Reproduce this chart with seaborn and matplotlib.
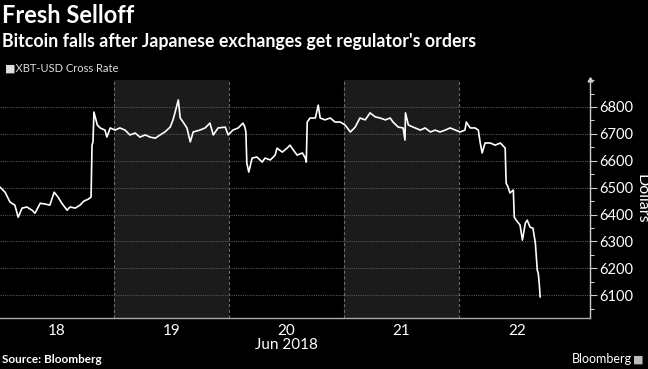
import pandas as pd
import matplotlib
matplotlib.use("Agg")
import matplotlib.pyplot as plt
from matplotlib.ticker import MultipleLocator
import seaborn as sns

# hours since 2018-06-18 00:00 and XBT-USD rate
hours_18 = [0.2, 1.25, 2.3, 3.3, 4.0, 4.8, 5.8, 6.9, 7.5, 8.6, 9.6, 10.6, 11.5, 12.3, 13.1,
            14.2, 14.8, 15.9, 16.9, 17.7, 18.6, 19.2, 19.4, 19.6, 19.8, 20.5, 21.1, 22.1, 22.5, 23.2]
rate_18 = [6502, 6483, 6446, 6435, 6390, 6424, 6428, 6416, 6405, 6442, 6439, 6435, 6483, 6465, 6442,
           6416, 6428, 6424, 6435, 6450, 6457, 6465, 6658, 6670, 6781, 6733, 6722, 6714, 6688, 6722]

hours_19 = [24.2, 25.2, 26.3, 27.3, 28.4, 29.4, 30.5, 31.5, 32.6, 33.6, 34.6, 35.7, 36.3, 36.7, 37.4,
            37.8, 38.4, 39.2, 39.9, 40.5, 41.9, 43.0, 44.0, 44.7, 45.7, 47.2]
rate_19 = [6714, 6722, 6714, 6696, 6703, 6688, 6696, 6688, 6684, 6696, 6707, 6725, 6752, 6778, 6826,
           6759, 6744, 6722, 6670, 6707, 6714, 6722, 6740, 6696, 6722, 6725]

hours_20 = [47.8, 48.8, 49.9, 50.9, 51.3, 51.5, 51.7, 52.1, 52.8, 53.8, 54.9, 55.5, 56.6, 57.6, 58.0,
            59.1, 60.1, 60.7, 61.4, 62.2, 63.3, 63.9, 64.1, 64.3, 64.9, 66.0, 66.6, 67.0, 68.0, 69.1,
            70.1, 71.2]
rate_20 = [6696, 6714, 6722, 6740, 6725, 6707, 6591, 6558, 6610, 6614, 6595, 6610, 6603, 6621, 6647,
           6632, 6647, 6658, 6640, 6621, 6629, 6610, 6595, 6744, 6759, 6759, 6807, 6759, 6752, 6759,
           6744, 6744]

hours_21 = [72.2, 73.3, 74.3, 75.3, 76.4, 77.4, 78.5, 79.5, 80.6, 81.6, 82.2, 83.3, 84.3, 84.7, 84.8,
            85.4, 86.4, 87.9, 88.9, 90.0, 91.0, 92.0, 93.1, 94.1, 95.2]
rate_21 = [6733, 6707, 6725, 6759, 6752, 6778, 6763, 6759, 6752, 6759, 6744, 6725, 6722, 6677, 6778,
           6733, 6725, 6714, 6722, 6707, 6714, 6707, 6714, 6722, 6714]

hours_22 = [96.2, 97.2, 97.5, 98.3, 99.3, 100.0, 100.4, 100.8, 101.4, 102.5, 103.5, 104.6, 105.6, 105.8,
            106.2, 106.6, 107.3, 107.5, 107.9, 108.7, 109.2, 109.8, 110.2, 110.8, 111.4, 111.9, 112.3,
            112.5, 112.7, 112.9]
rate_22 = [6707, 6714, 6744, 6722, 6722, 6714, 6666, 6629, 6666, 6666, 6658, 6666, 6647, 6517,
           6502, 6480, 6491, 6390, 6379, 6361, 6305, 6368, 6379, 6353, 6349, 6294, 6193,
           6182, 6145, 6093]

days = ["2018-06-18", "2018-06-19", "2018-06-20", "2018-06-21", "2018-06-22", "2018-06-23"]
shaded_days = ["2018-06-19", "2018-06-21"]
y_ticks = [6100, 6200, 6300, 6400, 6500, 6600, 6700, 6800]

start = pd.Timestamp("2018-06-18")
hours = hours_18 + hours_19 + hours_20 + hours_21 + hours_22
rates = rate_18 + rate_19 + rate_20 + rate_21 + rate_22
df = pd.DataFrame({"time": start + pd.to_timedelta(hours, unit="h"), "rate": rates})

sns.set_style("dark")
plt.rcParams["font.family"] = ["Lato", "DejaVu Sans"]

fig = plt.figure(figsize=(6.48, 3.69), dpi=100, facecolor="black")
ax = fig.add_axes([0.0, 0.138, 0.9105, 0.645])
ax.set_facecolor("black")

# alternate day shading and day separators
for d in shaded_days:
    d0 = pd.Timestamp(d)
    ax.axvspan(d0, d0 + pd.Timedelta(days=1), color="#1b1b1b", lw=0, zorder=0)
for d in days[1:-1]:
    ax.axvline(pd.Timestamp(d), color="#6a6a6a", lw=0.8, ls=(0, (3, 2)), zorder=1)
for v in y_ticks:
    ax.axhline(v, color="#555555", lw=0.8, ls=(0, (1, 1)), zorder=1)

sns.lineplot(data=df, x="time", y="rate", ax=ax, color="white", lw=1.2, zorder=3)

ax.set_xlim(start + pd.Timedelta(hours=0.2), start + pd.Timedelta(hours=123.3))
ax.set_ylim(6015, 6900)

ax.yaxis.tick_right()
ax.set_yticks(y_ticks)
ax.yaxis.set_minor_locator(MultipleLocator(50))
ax.tick_params(axis="y", which="major", colors="#cccccc", labelcolor="white", labelsize=10.5,
               length=5, width=0.8, pad=1.5)
ax.tick_params(axis="y", which="minor", colors="#cccccc", length=3, width=0.8)
ax.set_ylabel("")
ax.text(1.087, 0.5, "Dollars", transform=ax.transAxes, rotation=270, color="white",
        fontsize=11.5, ha="center", va="center")

noon = [pd.Timestamp(d) + pd.Timedelta(hours=12) for d in days[:-1]]
ax.set_xticks(noon)
ax.set_xticklabels([pd.Timestamp(d).strftime("%d") for d in days[:-1]])
ax.tick_params(axis="x", colors="white", labelsize=11, length=0, pad=4)
ax.set_xlabel("")
ax.grid(False)

for side in ["top", "left"]:
    ax.spines[side].set_visible(False)
ax.spines["bottom"].set_color("#aaaaaa")
ax.spines["bottom"].set_linewidth(1.0)
ax.spines["right"].set_color("#cccccc")
ax.spines["right"].set_linewidth(1.0)
# small arrow cap on top of the value axis
ax.plot([1], [1], marker=(3, 0, 0), ms=4, color="#cccccc", transform=ax.transAxes, clip_on=False)

ax.text(noon[2], -0.085, "Jun 2018", transform=ax.get_xaxis_transform(), ha="center",
        va="top", color="white", fontsize=11)

fig.text(0.003, 0.958, "Fresh Selloff", color="white", fontsize=17, fontweight="bold", va="center")
fig.text(0.003, 0.888, "Bitcoin falls after Japanese exchanges get regulator's orders",
         color="white", fontsize=12.8, fontweight="bold", va="center")
fig.text(0.008, 0.815, "\u25a0XBT-USD Cross Rate", color="#dddddd", fontsize=8, va="center")
fig.text(0.003, 0.025, "Source: Bloomberg", color="white", fontsize=8.5, fontweight="bold", va="center")
fig.text(0.975, 0.028, "Bloomberg", color="white", fontsize=9, ha="right", va="center")
fig.text(0.993, 0.028, "\u25a0", color="#bbbbbb", fontsize=8, ha="right", va="center")

fig.savefig("out.png", dpi=100, facecolor="black")
